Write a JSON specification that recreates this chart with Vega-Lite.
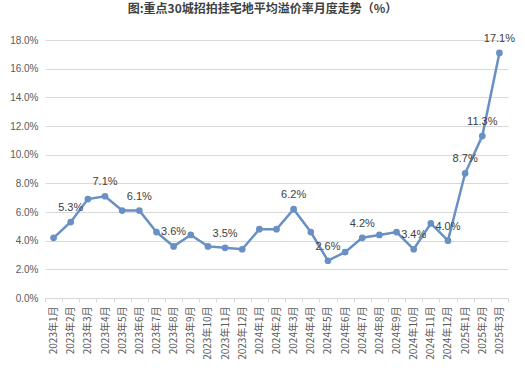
{
  "$schema": "https://vega.github.io/schema/vega-lite/v6.json",
  "autosize": {"type": "none"},
  "width": 463,
  "height": 258,
  "padding": {"left": 45, "top": 40, "right": 17, "bottom": 75},
  "background": "white",
  "title": {
    "text": "图:重点30城招拍挂宅地平均溢价率月度走势（%）",
    "fontSize": 12,
    "fontWeight": "bold",
    "color": "#404040",
    "font": "Noto Sans CJK SC",
    "anchor": "middle",
    "offset": 17,
    "dx": -14
  },
  "data": {
    "values": [
      {"month": "2023年1月", "rate": 4.2, "show": false},
      {"month": "2023年2月", "rate": 5.3, "show": true},
      {"month": "2023年3月", "rate": 6.9, "show": false},
      {"month": "2023年4月", "rate": 7.1, "show": true},
      {"month": "2023年5月", "rate": 6.1, "show": false},
      {"month": "2023年6月", "rate": 6.1, "show": true},
      {"month": "2023年7月", "rate": 4.6, "show": false},
      {"month": "2023年8月", "rate": 3.6, "show": true},
      {"month": "2023年9月", "rate": 4.4, "show": false},
      {"month": "2023年10月", "rate": 3.6, "show": false},
      {"month": "2023年11月", "rate": 3.5, "show": true},
      {"month": "2023年12月", "rate": 3.4, "show": false},
      {"month": "2024年1月", "rate": 4.8, "show": false},
      {"month": "2024年2月", "rate": 4.8, "show": false},
      {"month": "2024年3月", "rate": 6.2, "show": true},
      {"month": "2024年4月", "rate": 4.6, "show": false},
      {"month": "2024年5月", "rate": 2.6, "show": true},
      {"month": "2024年6月", "rate": 3.2, "show": false},
      {"month": "2024年7月", "rate": 4.2, "show": true},
      {"month": "2024年8月", "rate": 4.4, "show": false},
      {"month": "2024年9月", "rate": 4.6, "show": false},
      {"month": "2024年10月", "rate": 3.4, "show": true},
      {"month": "2024年11月", "rate": 5.2, "show": false},
      {"month": "2024年12月", "rate": 4.0, "show": true},
      {"month": "2025年1月", "rate": 8.7, "show": true},
      {"month": "2025年2月", "rate": 11.3, "show": true},
      {"month": "2025年3月", "rate": 17.1, "show": true}
    ]
  },
  "encoding": {
    "x": {
      "field": "month",
      "type": "ordinal",
      "sort": null,
      "scale": {"type": "band", "paddingInner": 0, "paddingOuter": 0},
      "axis": {
        "title": null,
        "labelAngle": 270,
        "labelFontSize": 10,
        "labelColor": "#595959",
        "labelFont": "Noto Sans CJK SC",
        "labelPadding": 4,
        "tickBand": "extent",
        "tickSize": 4,
        "tickColor": "#d9d9d9",
        "domainColor": "#d9d9d9",
        "grid": false
      }
    },
    "y": {
      "field": "rate",
      "type": "quantitative",
      "scale": {"domain": [0, 18]},
      "axis": {
        "title": null,
        "values": [0, 2, 4, 6, 8, 10, 12, 14, 16, 18],
        "labelExpr": "format(datum.value, '.1f') + '%'",
        "labelFontSize": 10,
        "labelColor": "#595959",
        "labelFont": "Liberation Sans",
        "labelPadding": 7,
        "ticks": false,
        "domain": false,
        "gridColor": "#d9d9d9"
      }
    }
  },
  "layer": [
    {
      "mark": {"type": "line", "color": "#6890c4", "strokeWidth": 2.5, "point": {"filled": true, "size": 45, "color": "#6890c4"}}
    },
    {
      "transform": [
        {"filter": "datum.show"},
        {"calculate": "format(datum.rate, '.1f') + '%'", "as": "label"}
      ],
      "mark": {"type": "text", "dy": -14, "fontSize": 11, "color": "#404040", "font": "Liberation Sans"},
      "encoding": {
        "text": {"field": "label", "type": "nominal"}
      }
    }
  ],
  "config": {"view": {"stroke": null}}
}
